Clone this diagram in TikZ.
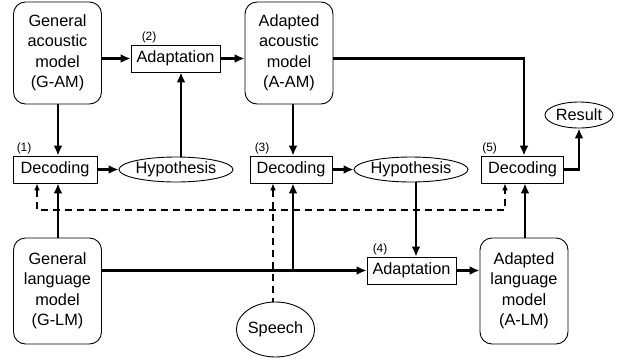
\documentclass[tikz,border=0pt]{standalone}
\usepackage{fontspec}
\setmainfont{Liberation Sans}
\usetikzlibrary{shapes,shapes.misc,arrows.meta}

\begin{document}
\begin{tikzpicture}[x=1pt,y=-1pt,
  >={Latex[length=10pt,width=9pt]},
  every node/.append style={font=\fontsize{16.3}{20.5}\selectfont},
  model/.style={draw,line width=0.9pt,rounded corners=12pt,align=center,
    minimum width=88pt,inner sep=0pt},
  flow/.style={->,line width=2.3pt}]
  \tikzstyle{proc} = [draw,line width=0.9pt,rectangle,inner sep=0pt,minimum height=27pt]
  \tikzstyle{oval} = [draw,line width=0.9pt,ellipse,inner sep=0pt]
  \tikzstyle{num} = [font=\fontsize{12}{13}\selectfont,anchor=south west,inner sep=1pt]
  \tikzstyle{hint} = [<->,dashed,line width=1.3pt,dash pattern=on 7pt off 5pt,
    >={Latex[length=7pt,width=6pt]}]
  \useasboundingbox (0,0) rectangle (619,362);

  % models
  \node (g_am) [model,minimum height=102pt] at (57.5,53) {General\\acoustic\\model\\(G-AM)};
  \node (a_am) [model,minimum height=102pt] at (289,53) {Adapted\\acoustic\\model\\(A-AM)};
  \node (g_lm) [model,minimum height=106pt] at (57.5,291) {General\\language\\model\\(G-LM)};
  \node (a_lm) [model,minimum height=106pt] at (524,291) {Adapted\\language\\model\\(A-LM)};

  % steps
  \node (adapt_2) [proc,minimum width=89pt] at (175.5,58.5) {Adaptation};
  \node (dec_1) [proc,minimum width=84pt] at (55,169.5) {Decoding};
  \node (dec_3) [proc,minimum width=82pt] at (291,169.5) {Decoding};
  \node (dec_5) [proc,minimum width=82pt] at (522.5,169.5) {Decoding};
  \node (adapt_4) [proc,minimum width=89pt] at (411.5,270.5) {Adaptation};
  \node (hyp_1) [oval,minimum width=97pt,minimum height=25pt] at (176,169.5) {Hypothesis};
  \node (hyp_2) [oval,minimum width=90pt,minimum height=25pt] at (411,169.5) {Hypothesis};
  \node (result) [oval,minimum width=68pt,minimum height=26pt] at (579,115) {Result};
  \node (speech) [oval,minimum width=75pt,minimum height=55pt] at (275.5,329.5) {Speech};

  \node [num,xshift=10pt] at (adapt_2.north west) {(2)};
  \node [num,xshift=3pt] at (dec_1.north west) {(1)};
  \node [num,xshift=4pt] at (dec_3.north west) {(3)};
  \node [num,xshift=0pt] at (dec_5.north west) {(5)};
  \node [num,xshift=5pt] at (adapt_4.north west) {(4)};

  \coordinate (dash_l) at (37,210);
  \coordinate (dash_r) at (505,210);
  \coordinate (fork) at (293,270.5);

  % acoustic side
  \draw [flow] (g_am.east |- adapt_2) -- (adapt_2);
  \draw [flow] (adapt_2) -- (a_am.west |- adapt_2);
  \draw [flow] (g_am.south -| 58,0) -- (dec_1.north -| 58,0);
  \draw [flow] (hyp_1.north -| 181,0) -- (adapt_2.south -| 181,0);
  \draw [flow] (dec_1) -- (hyp_1);
  \draw [flow] (a_am.south -| fork) -- (dec_3.north -| fork);
  \draw [flow] (a_am.east |- adapt_2) -| (dec_5.north -| 524,0);
  \draw [flow] (dec_3) -- (hyp_2);
  \draw [flow] (hyp_2.south -| 416,0) -- (adapt_4.north -| 416,0);
  \draw [flow] (dec_5.east) -| (result.south);

  % language side
  \draw [flow] (g_lm.north -| 58,0) -- (dec_1.south -| 58,0);
  \draw [flow] (g_lm.east |- adapt_4) -- (adapt_4);
  \draw [flow] (fork) -- (dec_3.south -| fork);
  \draw [flow] (adapt_4) -- (a_lm.west |- adapt_4);
  \draw [flow] (a_lm.north -| 525,0) -- (dec_5.south -| 525,0);

  % speech input
  \draw [hint] (dash_l |- dec_1.south) -- (dash_l) -- (dash_r) -- (dash_r |- dec_5.south);
  \draw [hint,<-] (dec_3.south -| 273,0) -- (speech.north -| 273,0);
\end{tikzpicture}
\end{document}
